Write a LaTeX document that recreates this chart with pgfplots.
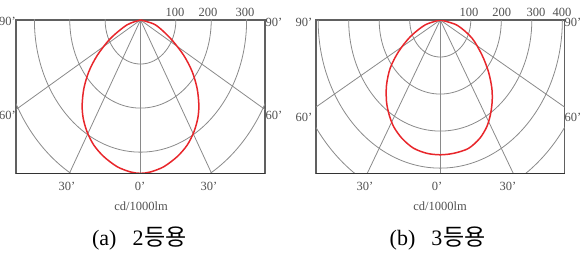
\documentclass[border=0pt]{standalone}
\usepackage{pgfplots}
\pgfplotsset{compat=1.18}
\usepackage{fontspec}
\setmainfont{Liberation Serif}
\newfontfamily\kr{Noto Sans CJK KR}
\definecolor{gridc}{HTML}{8A8A8A}
\definecolor{boxc}{HTML}{606060}
\definecolor{curve}{HTML}{E8262B}
\definecolor{lbl}{HTML}{505050}
\pgfplotsset{polbox/.style={scale only axis, axis line style={boxc, line width=1.2pt},
  xtick=\empty, ytick=\empty, ymax=0, anchor=south west, clip=true}}
\tikzset{gl/.style={gridc, line width=0.8pt}, lb/.style={text=lbl, font=\fontsize{12.5}{12.5}\selectfont, inner sep=0pt},
  captxt/.style={text=black, font=\fontsize{22}{22}\selectfont, inner sep=0pt}}
\begin{document}
\begin{tikzpicture}
\path[use as bounding box] (0,0) rectangle (582pt,258pt);
% ---------- left panel ----------
\begin{axis}[polbox, at={(16pt,84.7pt)}, width=249pt, height=153.3pt, xmin=-352, xmax=352, ymin=-348]
\draw[gl] (axis cs:0,0) ellipse [x radius=100, y radius=100];
\draw[gl] (axis cs:0,0) ellipse [x radius=200, y radius=200];
\draw[gl] (axis cs:0,0) ellipse [x radius=300, y radius=300];
\draw[gl] (axis cs:0,0) ellipse [x radius=400, y radius=400];
\draw[gl] (axis cs:0,0) -- (axis cs:0,-2000);
\draw[gl] (axis cs:0,0) -- (axis cs:-1000,-1732);
\draw[gl] (axis cs:0,0) -- (axis cs:1000,-1732);
\draw[gl] (axis cs:0,0) -- (axis cs:-1732,-1000);
\draw[gl] (axis cs:0,0) -- (axis cs:1732,-1000);
\addplot[curve, line width=1.5pt, smooth] coordinates {
(0,0) (-38,-11) (-85,-42) (-122,-80) (-146,-117) (-160,-155) (-165,-193) (-162,-223)
(-151,-254) (-132,-284) (-104,-310) (-66,-333) (-28,-345) (0,-348) (28,-345) (66,-333)
(104,-310) (132,-284) (151,-254) (162,-223) (165,-193) (160,-155) (146,-117) (122,-80)
(85,-42) (42,-11) (0,0)};
\end{axis}
% ---------- right panel ----------
\begin{axis}[polbox, at={(316pt,84.7pt)}, width=248.5pt, height=153.3pt, xmin=-407, xmax=407, ymin=-414]
\draw[gl] (axis cs:0,0) ellipse [x radius=100, y radius=100];
\draw[gl] (axis cs:0,0) ellipse [x radius=200, y radius=200];
\draw[gl] (axis cs:0,0) ellipse [x radius=300, y radius=300];
\draw[gl] (axis cs:0,0) ellipse [x radius=400, y radius=400];
\draw[gl] (axis cs:0,0) ellipse [x radius=500, y radius=500];
\draw[gl] (axis cs:0,0) -- (axis cs:0,-2000);
\draw[gl] (axis cs:0,0) -- (axis cs:-1000,-1732);
\draw[gl] (axis cs:0,0) -- (axis cs:1000,-1732);
\draw[gl] (axis cs:0,0) -- (axis cs:-1732,-1000);
\draw[gl] (axis cs:0,0) -- (axis cs:1732,-1000);
\addplot[curve, line width=1.5pt, smooth] coordinates {
(0,0) (-49,-13) (-98,-45) (-137,-86) (-164,-130) (-176,-176) (-176,-221) (-167,-257)
(-152,-289) (-125,-320) (-88,-346) (-44,-360) (0,-364) (44,-360) (92,-347) (129,-320)
(152,-289) (164,-257) (170,-221) (169,-184) (158,-140) (137,-95) (104,-49) (55,-14) (0,0)};
\end{axis}
% darker bottom edges
\draw[black!80, line width=1.6pt] (16pt,84.7pt) -- (265pt,84.7pt);
\draw[black!80, line width=1.6pt] (316pt,84.7pt) -- (564.5pt,84.7pt);
% ---------- labels left ----------
\node[lb] at (175pt,246pt) {100};
\node[lb] at (208pt,246pt) {200};
\node[lb] at (245pt,246pt) {300};
\node[lb] at (7.5pt,236.5pt) {90'};
\node[lb] at (274pt,236pt) {90'};
\node[lb] at (7.5pt,143pt) {60'};
\node[lb] at (274pt,143pt) {60'};
\node[lb] at (67pt,72pt) {30'};
\node[lb] at (140pt,72pt) {0'};
\node[lb] at (209pt,72pt) {30'};
\node[lb] at (141pt,52pt) {cd/1000lm};
% ---------- labels right ----------
\node[lb] at (469pt,246pt) {100};
\node[lb] at (501.7pt,246pt) {200};
\node[lb] at (536pt,246pt) {300};
\node[lb] at (562pt,246pt) {400};
\node[lb] at (304pt,236pt) {90'};
\node[lb] at (573pt,235.5pt) {90'};
\node[lb] at (304pt,141pt) {60'};
\node[lb] at (573pt,141pt) {60'};
\node[lb] at (365pt,72pt) {30'};
\node[lb] at (437pt,72pt) {0'};
\node[lb] at (508pt,72pt) {30'};
\node[lb] at (440pt,52pt) {cd/1000lm};
% ---------- captions ----------
\node[captxt] at (139.5pt,19pt) {(a)\hspace{16pt}2\hspace{1pt}{\kr\fontsize{23}{23}\selectfont 등용}};
\node[captxt] at (437.7pt,19pt) {(b)\hspace{16pt}3\hspace{1pt}{\kr\fontsize{23}{23}\selectfont 등용}};
\end{tikzpicture}
\end{document}
